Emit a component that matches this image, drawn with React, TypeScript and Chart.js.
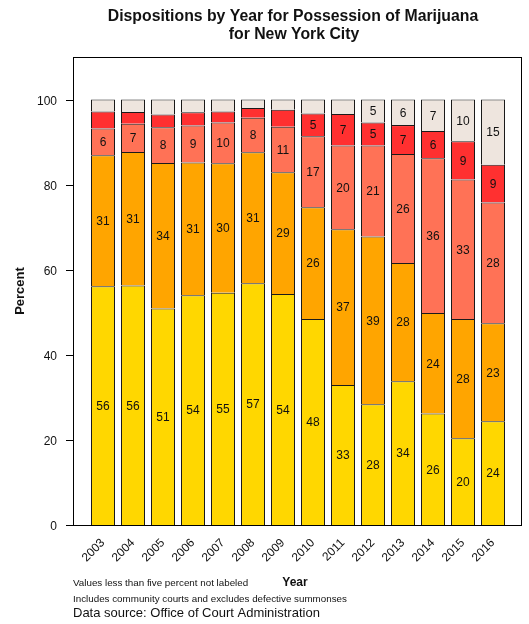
import React, { useEffect, useRef } from "react";
import { Chart, registerables } from "chart.js";

Chart.register(...registerables);

const years = ["2003", "2004", "2005", "2006", "2007", "2008", "2009", "2010", "2011", "2012", "2013", "2014", "2015", "2016"];

// Percent shares per year, bottom to top of each stack
const goldShare = [56.1, 56.3, 50.9, 54.0, 54.6, 56.8, 54.3, 48.4, 32.9, 28.4, 33.8, 26.2, 20.4, 24.4];
const orangeShare = [30.8, 31.4, 34.2, 31.2, 30.4, 30.8, 28.6, 26.3, 36.6, 39.4, 27.8, 23.6, 28.0, 23.0];
const coralShare = [6.3, 6.6, 8.4, 8.7, 9.6, 8.1, 10.7, 16.7, 19.7, 21.4, 25.6, 36.4, 32.8, 28.4];
const redShare = [4.0, 2.8, 3.0, 3.1, 2.6, 2.3, 4.0, 5.3, 7.4, 5.4, 6.8, 6.4, 9.0, 8.9];
const seashellShare = [2.8, 2.9, 3.5, 3.0, 2.8, 2.0, 2.4, 3.3, 3.4, 5.4, 6.0, 7.4, 9.8, 15.3];

const seriesValues = [goldShare, orangeShare, coralShare, redShare, seashellShare];
const seriesColors = ["#FFD700", "#FFA500", "#FF7256", "#FF3030", "#EEE5DE"];

const yTicks = [0, 20, 40, 60, 80, 100];
const yMax = 110;
const labelThreshold = 5;

const titleLines = ["Dispositions by Year for Possession of Marijuana", "for New York City"];
const yAxisTitle = "Percent";
const xAxisTitle = "Year";
const noteSmall1 = "Values less than five percent not labeled";
const noteSmall2 = "Includes community courts and excludes defective summonses";
const noteSource = "Data source: Office of Court Administration";

const FONT = '"Liberation Sans", Arial, Helvetica, sans-serif';
const INK = "#111";

const decorPlugin = {
  id: "decor",
  afterDatasetsDraw(chart: any) {
    const ctx = chart.ctx as CanvasRenderingContext2D;
    const { left, right, top, bottom } = chart.chartArea;
    const xs = chart.scales.x;
    const ys = chart.scales.y;
    const boxL = left - 15;
    const boxR = right + 13;
    ctx.save();

    // bar value labels
    ctx.fillStyle = INK;
    ctx.font = `12px ${FONT}`;
    ctx.textAlign = "center";
    ctx.textBaseline = "middle";
    chart.data.datasets.forEach((ds: any, i: number) => {
      const meta = chart.getDatasetMeta(i);
      meta.data.forEach((bar: any, j: number) => {
        const v = ds.data[j];
        if (v >= labelThreshold) {
          ctx.fillText(String(Math.round(v)), bar.x, (bar.y + bar.base) / 2 + 1);
        }
      });
    });

    // plot box
    ctx.strokeStyle = "#000";
    ctx.lineWidth = 1;
    ctx.strokeRect(Math.round(boxL) + 0.5, Math.round(top) + 0.5, Math.round(boxR - boxL), Math.round(bottom - top));

    // y axis ticks and labels
    ctx.beginPath();
    const y0 = Math.round(ys.getPixelForValue(yTicks[0])) + 0.5;
    const y1 = Math.round(ys.getPixelForValue(yTicks[yTicks.length - 1])) + 0.5;
    ctx.moveTo(Math.round(boxL) + 0.5, y0);
    ctx.lineTo(Math.round(boxL) + 0.5, y1);
    ctx.stroke();
    ctx.textAlign = "right";
    ctx.textBaseline = "middle";
    ctx.font = `12px ${FONT}`;
    yTicks.forEach((t) => {
      const py = Math.round(ys.getPixelForValue(t)) + 0.5;
      ctx.beginPath();
      ctx.moveTo(Math.round(boxL) - 7, py);
      ctx.lineTo(Math.round(boxL) + 0.5, py);
      ctx.stroke();
      ctx.fillText(String(t), boxL - 16, py + 1);
    });

    // x labels rotated
    ctx.textAlign = "right";
    ctx.textBaseline = "middle";
    years.forEach((yr, j) => {
      const px = xs.getPixelForValue(j);
      ctx.save();
      ctx.translate(px, bottom + 16);
      ctx.rotate(-Math.PI / 4);
      ctx.fillText(yr, 0, 0);
      ctx.restore();
    });

    // title
    const cx = (boxL + boxR) / 2;
    ctx.textAlign = "center";
    ctx.textBaseline = "alphabetic";
    ctx.font = `bold 15.8px ${FONT}`;
    ctx.fillText(titleLines[0], cx - 4, 21);
    ctx.fillText(titleLines[1], cx - 3, 39);

    // y axis title
    ctx.save();
    ctx.translate(24, 291);
    ctx.rotate(-Math.PI / 2);
    ctx.font = `bold 13px ${FONT}`;
    ctx.textAlign = "center";
    ctx.fillText(yAxisTitle, 0, 0);
    ctx.restore();

    // x axis title
    ctx.font = `bold 12px ${FONT}`;
    ctx.textAlign = "center";
    ctx.fillText(xAxisTitle, cx - 2, 586);

    // footnotes
    ctx.textAlign = "left";
    ctx.font = `9.8px ${FONT}`;
    ctx.fillText(noteSmall1, boxL, 586);
    ctx.fillText(noteSmall2, boxL, 602);
    ctx.font = `13px ${FONT}`;
    ctx.fillText(noteSource, boxL, 617);

    ctx.restore();
  },
};

export default function App() {
  const canvasRef = useRef<HTMLCanvasElement | null>(null);

  useEffect(() => {
    const canvas = canvasRef.current;
    if (!canvas) return;
    const chart = new Chart(canvas, {
      type: "bar",
      data: {
        labels: years,
        datasets: seriesValues.map((vals, i) => ({
          label: `s${i}`,
          data: vals,
          backgroundColor: seriesColors[i],
          borderColor: "#1a1a1a",
          borderWidth: 1,
          borderSkipped: "start",
          inflateAmount: 0,
          barPercentage: 0.8,
          categoryPercentage: 1,
        })),
      },
      options: {
        responsive: false,
        animation: false,
        devicePixelRatio: 1,
        layout: { padding: { left: 88, right: 21, top: 57, bottom: 99 } },
        plugins: {
          legend: { display: false },
          tooltip: { enabled: false },
          title: { display: false },
        },
        scales: {
          x: { stacked: true, display: false },
          y: { stacked: true, display: false, min: 0, max: yMax },
        },
      },
      plugins: [decorPlugin],
    });
    return () => chart.destroy();
  }, []);

  return (
    <div style={{ position: "absolute", left: 0, top: 0, width: 529, height: 624, background: "#fff" }}>
      <canvas ref={canvasRef} width={529} height={624} style={{ display: "block" }} />
    </div>
  );
}
